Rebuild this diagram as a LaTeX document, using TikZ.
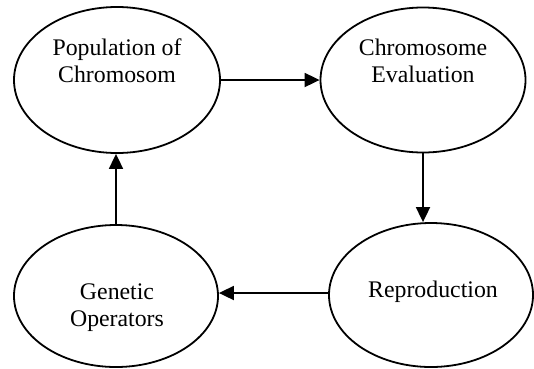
\documentclass[tikz,border=0pt]{standalone}
\usepackage{fontspec}
\setmainfont{Liberation Serif}
\usetikzlibrary{shapes.geometric,arrows.meta}
\begin{document}
\begin{tikzpicture}[x=1bp,y=-1bp,
  oval/.style={draw=black,line width=1.8bp,ellipse,inner sep=0pt},
  txt/.style={inner sep=0pt,anchor=base,font=\fontsize{23.8bp}{27bp}\selectfont},
  arr/.style={line width=1.8bp,-{Triangle[length=15bp,width=14bp]}}]
\useasboundingbox (0,0) rectangle (534,368);
\node[oval,minimum width=206bp,minimum height=146bp] (pop) at (117,80) {};
\node[oval,minimum width=205bp,minimum height=145bp] (eval) at (423,80) {};
\node[oval,minimum width=204bp,minimum height=144bp] (repr) at (431,295) {};
\node[oval,minimum width=204bp,minimum height=142bp] (gen) at (116,296) {};
\node[txt] (t1a) at (117,55) {Population of};
\node[txt] (t1b) at (117,82) {Chromosom};
\node[txt] (t2a) at (423,55) {Chromosome};
\node[txt] (t2b) at (423,82) {Evaluation};
\node[txt] (t3) at (433,297) {Reproduction};
\node[txt] (t4a) at (117,299) {Genetic};
\node[txt] (t4b) at (117,326) {Operators};
\draw[arr] (pop.east) -- (eval.west);
\draw[arr] (eval.south) -- (eval.south |- repr.north);
\draw[arr] ([yshift=2bp]repr.west) -- ([yshift=2bp]repr.west -| gen.east);
\draw[arr] (gen.north) -- (gen.north |- pop.south);
\end{tikzpicture}
\end{document}
